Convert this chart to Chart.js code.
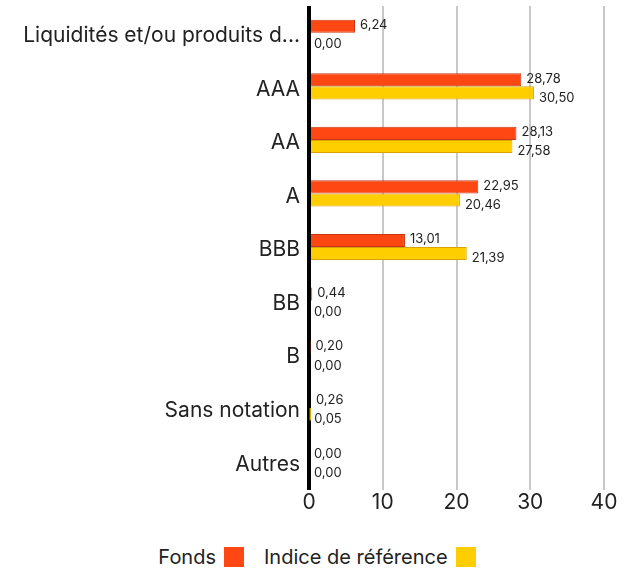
<!DOCTYPE html>
<html>
<head>
<meta charset="utf-8">
<script src="https://cdn.jsdelivr.net/npm/chart.js@4"></script>
<style>
  body { margin: 0; background: #fff; font-family: Inter, "Noto Sans", sans-serif; }
  #wrap { position: relative; width: 634px; height: 568px; }
  #legende { position: absolute; left: 0; top: 545px; width: 634px; display: flex; justify-content: center; align-items: center; font-size: 20px; color: #222; }
  .item { display: flex; align-items: center; margin: 0 10px; }
  .boite { width: 20px; height: 20px; margin-left: 8px; }
</style>
</head>
<body>
<div id="wrap">
  <canvas id="graphique" width="634" height="530"></canvas>
  <div id="legende">
    <div class="item">Fonds<span class="boite" style="background:#FF4713"></span></div>
    <div class="item">Indice de référence<span class="boite" style="background:#FFCE00"></span></div>
  </div>
</div>
<script>
var categories = ["Liquidités et/ou produits d...", "AAA", "AA", "A", "BBB", "BB", "B", "Sans notation", "Autres"];
var fonds = [6.24, 28.78, 28.13, 22.95, 13.01, 0.44, 0.20, 0.26, 0.00];
var indice = [0.00, 30.50, 27.58, 20.46, 21.39, 0.00, 0.00, 0.05, 0.00];
var ticksX = [0, 10, 20, 30, 40];

function formater(v) {
    return v.toFixed(2).replace(".", ",");
}

// etiquettes a droite des barres
var etiquettes = {
    id: "etiquettes",
    afterDatasetsDraw: function (chart) {
        var ctx = chart.ctx;
        ctx.save();
        ctx.font = "13px Inter, 'Noto Sans', sans-serif";
        ctx.fillStyle = "#222";
        ctx.textAlign = "left";
        ctx.textBaseline = "middle";
        chart.data.datasets.forEach(function (ds, i) {
            var meta = chart.getDatasetMeta(i);
            meta.data.forEach(function (bar, j) {
                var decal = i === 0 ? -1 : 5;
                ctx.fillText(formater(ds.data[j]), bar.x + 5, bar.y + decal);
            });
        });
        ctx.restore();
    }
};

var ctx = document.getElementById("graphique").getContext("2d");
var monGraphique = new Chart(ctx, {
    type: "bar",
    data: {
        labels: categories,
        datasets: [{
            label: "Fonds",
            data: fonds,
            backgroundColor: "#FF4713",
            borderColor: "#C8361A",
            borderWidth: 1,
            barPercentage: 1,
            categoryPercentage: 0.49
        }, {
            label: "Indice de référence",
            data: indice,
            backgroundColor: "#FFCE00",
            borderColor: "#D9A400",
            borderWidth: 1,
            barPercentage: 1,
            categoryPercentage: 0.49
        }]
    },
    plugins: [etiquettes],
    options: {
        indexAxis: "y",
        responsive: false,
        animation: false,
        devicePixelRatio: 1,
        layout: { padding: { top: 6, right: 30, left: 0, bottom: 0 } },
        plugins: {
            legend: { display: false },
            tooltip: { enabled: false }
        },
        scales: {
            x: {
                min: 0,
                max: 40,
                afterBuildTicks: function (scale) {
                    scale.ticks = ticksX.map(function (v) { return { value: v }; });
                },
                afterFit: function (scale) {
                    scale.height = 42;
                    scale.paddingLeft = 0;
                    scale.paddingRight = 0;
                },
                border: { display: false },
                grid: {
                    tickLength: 2,
                    color: function (c) { return c.tick && c.tick.value === 0 ? "#000" : "#c8c8c8"; },
                    lineWidth: function (c) { return c.tick && c.tick.value === 0 ? 4 : 2; }
                },
                ticks: {
                    color: "#222",
                    padding: 0,
                    font: { family: "Inter, 'Noto Sans', sans-serif", size: 21 }
                }
            },
            y: {
                afterFit: function (scale) {
                    scale.width = 309;
                    scale.paddingTop = 0;
                    scale.paddingBottom = 0;
                },
                border: { display: false },
                grid: { display: false },
                ticks: {
                    color: "#222",
                    padding: 1,
                    labelOffset: 3,
                    font: { family: "Inter, 'Noto Sans', sans-serif", size: 21 }
                }
            }
        }
    }
});
</script>
</body>
</html>
